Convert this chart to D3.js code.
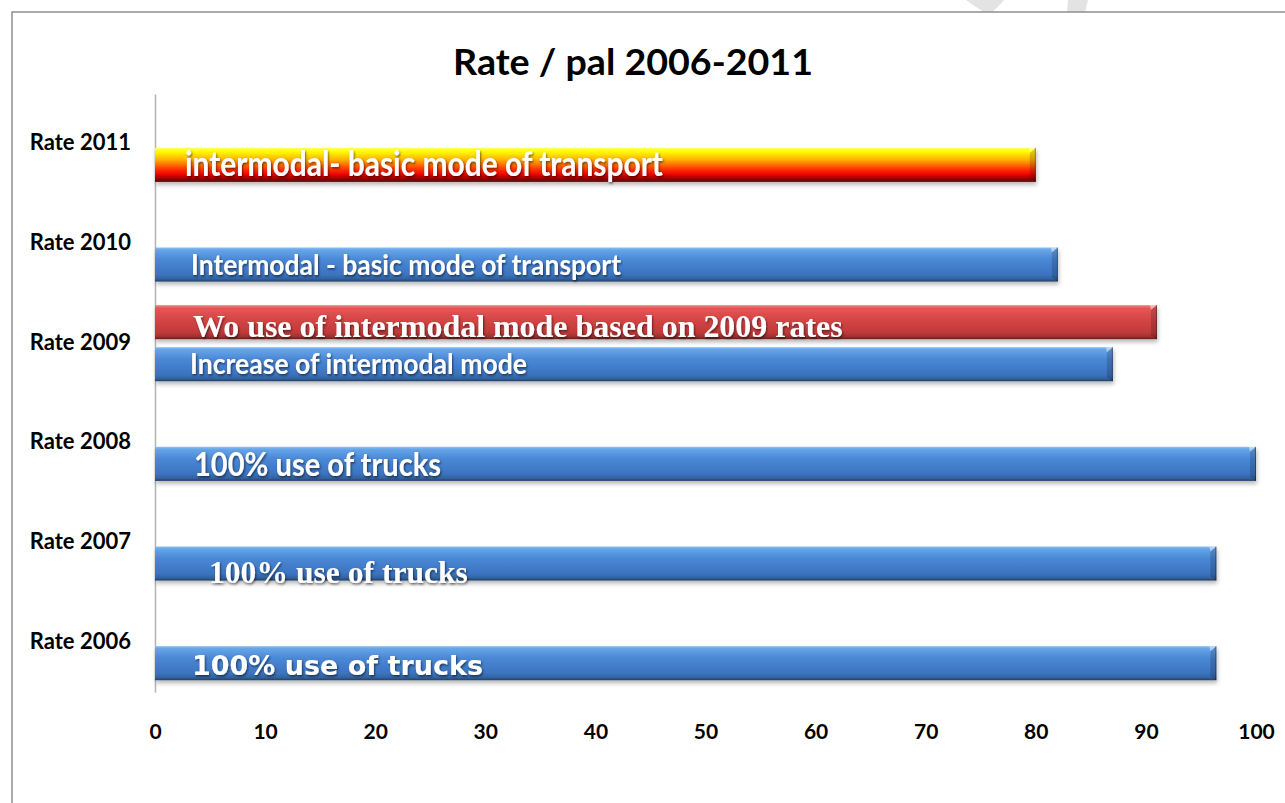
<!DOCTYPE html>
<html>
<head>
<meta charset="utf-8">
<script src="https://cdn.jsdelivr.net/npm/d3@7"></script>
<style>
  html, body { margin: 0; padding: 0; background: #fff; }
  svg { display: block; }
</style>
</head>
<body>
<svg id="chart" width="1285" height="803"></svg>
<script>
// Rate per pallet, 2006-2011
const categories = ["Rate 2006", "Rate 2007", "Rate 2008", "Rate 2009", "Rate 2010", "Rate 2011"];
const baseRates = [96.4, 96.4, 100, 87, 82, 80];
const baseLabels = [
  "100% use of trucks",
  "100% use of trucks",
  "100% use of trucks",
  "Increase of intermodal mode",
  "Intermodal - basic mode of transport",
  "intermodal- basic mode of transport"
];
const noIntermodalRates = [null, null, null, 91, null, null];
const noIntermodalLabels = [null, null, null, "Wo use of intermodal mode based on 2009 rates", null, null];
const xTicks = [0, 10, 20, 30, 40, 50, 60, 70, 80, 90, 100];
const chartTitle = "Rate / pal 2006-2011";

// Presentation of the in-bar captions (font, fitted width, offsets from the bar start / bar centre,
// and how much taller than the natural fit the glyphs are drawn before being squeezed to width)
const baseLabelStyle = [
  { font: "'DejaVu Sans'", width: 291, dx: 37, dy: 12, tall: 1.0 },
  { font: "'Liberation Serif'", width: 259, dx: 54, dy: 19, tall: 1.0 },
  { font: "Lato", width: 247, dx: 39, dy: 12, tall: 1.12 },
  { font: "Lato", width: 337, dx: 35, dy: 10, tall: 1.1 },
  { font: "Lato", width: 430, dx: 36, dy: 10, tall: 1.1 },
  { font: "Lato", width: 478, dx: 30, dy: 11, tall: 1.12 }
];
const altLabelStyle = { font: "'Liberation Serif'", width: 650, dx: 38, dy: 15, tall: 1.0 };
const baseFill = ["blue", "blue", "blue", "blue", "blue", "fire"];

const svg = d3.select("#chart");
const defs = svg.append("defs");

function vGradient(id, stops) {
  const g = defs.append("linearGradient").attr("id", id)
    .attr("x1", 0).attr("y1", 0).attr("x2", 0).attr("y2", 1);
  stops.forEach(([o, c]) => g.append("stop").attr("offset", o).attr("stop-color", c));
}
vGradient("blue", [["0", "#8dc0f4"], ["0.07", "#67a5e8"], ["0.35", "#4a88d6"], ["0.8", "#3b73bf"], ["0.92", "#33639f"], ["1", "#213f6a"]]);
vGradient("red", [["0", "#f58a8a"], ["0.08", "#e55858"], ["0.4", "#d64646"], ["0.8", "#c13a3a"], ["0.92", "#a23030"], ["1", "#6a1c1c"]]);
vGradient("fire", [["0", "#ffff66"], ["0.1", "#ffff00"], ["0.35", "#ffb000"], ["0.6", "#ff4000"], ["0.78", "#ee0000"], ["0.9", "#a00000"], ["1", "#4a1010"]]);

const shadow = defs.append("filter").attr("id", "barShadow")
  .attr("x", "-5%").attr("y", "-30%").attr("width", "110%").attr("height", "180%");
shadow.append("feDropShadow").attr("dx", 1).attr("dy", 3).attr("stdDeviation", 2.2)
  .attr("flood-color", "#000").attr("flood-opacity", 0.28);

const txtShadow = defs.append("filter").attr("id", "textShadow")
  .attr("x", "-5%").attr("y", "-30%").attr("width", "110%").attr("height", "180%");
txtShadow.append("feDropShadow").attr("dx", 1).attr("dy", 1.5).attr("stdDeviation", 1)
  .attr("flood-color", "#000").attr("flood-opacity", 0.55);

// background and chart-area frame
svg.append("rect").attr("width", 1285).attr("height", 803).attr("fill", "#fff");
svg.append("path")
  .attr("d", "M966,0 L1004,0 C1000,5 996,9 992,12 L984,12 C978,8 971,4 966,0 Z M1068,0 L1088,0 L1085,12 L1067,12 Z")
  .attr("fill", "#e3e3e3");
svg.append("rect").attr("x", 12).attr("y", 12).attr("width", 1320).attr("height", 840)
  .attr("fill", "none").attr("stroke", "#8f8f8f").attr("stroke-width", 1.5);

// scales
const x = d3.scaleLinear().domain([0, 100]).range([155, 1256]);
const y = d3.scaleBand().domain(categories.slice().reverse()).range([94, 692]);
const slot = d3.scaleBand().domain(["alt", "base"]).range([0, y.bandwidth()])
  .paddingInner(0.19).paddingOuter(0.28);

// title
svg.append("text").attr("x", 633).attr("y", 75).attr("text-anchor", "middle")
  .attr("font-family", "Lato, sans-serif").attr("font-weight", 700).attr("font-size", 36)
  .attr("textLength", 360).attr("lengthAdjust", "spacingAndGlyphs")
  .attr("fill", "#000").text(chartTitle);

// category axis
const yAxis = svg.append("g").attr("transform", `translate(155,0)`)
  .call(d3.axisLeft(y).tickSize(0).tickSizeOuter(0).tickPadding(24));
yAxis.select(".domain").attr("stroke", "#b3b3b3").attr("stroke-width", 1.5);
yAxis.selectAll("text").attr("font-family", "Lato, sans-serif").attr("font-weight", 700)
  .attr("font-size", 22).attr("fill", "#000").attr("dy", "0.3em");

// value axis
const xAxis = svg.append("g").attr("transform", `translate(0,731)`)
  .call(d3.axisBottom(x).tickValues(xTicks).tickSize(0).tickPadding(0));
xAxis.select(".domain").remove();
xAxis.selectAll("text").attr("font-family", "Lato, sans-serif").attr("font-weight", 700)
  .attr("font-size", 21).attr("fill", "#000").attr("dy", "0.36em");

// bars
const rows = categories.map((c, i) => ({
  cat: c, base: baseRates[i], baseLabel: baseLabels[i], alt: noIntermodalRates[i],
  altLabel: noIntermodalLabels[i], style: baseLabelStyle[i], fill: baseFill[i]
}));

const marks = [];
rows.forEach(r => {
  marks.push({ cat: r.cat, slotKey: "base", value: r.base, label: r.baseLabel, style: r.style, fill: r.fill });
  if (r.alt != null) marks.push({ cat: r.cat, slotKey: "alt", value: r.alt, label: r.altLabel, style: altLabelStyle, fill: "red" });
});

const barG = svg.append("g");
const bar = barG.selectAll("g.bar").data(marks).join("g").attr("class", "bar")
  .attr("transform", d => `translate(0,${y(d.cat) + slot(d.slotKey)})`);

const h = slot.bandwidth();
bar.append("rect")
  .attr("x", x(0)).attr("y", 0)
  .attr("width", d => x(d.value) - x(0)).attr("height", h)
  .attr("fill", d => `url(#${d.fill})`).attr("filter", "url(#barShadow)");

// bevelled right end
bar.append("path")
  .attr("d", d => { const e = x(d.value); return `M${e - 6},${5} L${e},0 L${e},${h} L${e - 6},${h - 4} Z`; })
  .attr("fill", "rgba(0,0,0,0.16)");
bar.append("path")
  .attr("d", d => { const e = x(d.value); return `M${e - 6},${5} L${e},0 L${e - 7},0 Z`; })
  .attr("fill", "rgba(255,255,255,0.45)");
bar.append("line")
  .attr("x1", d => x(d.value) - 0.5).attr("x2", d => x(d.value) - 0.5)
  .attr("y1", 0).attr("y2", h).attr("stroke", "rgba(0,0,0,0.35)");

// captions inside the bars, fitted to their widths
bar.append("text")
  .attr("x", d => x(0) + d.style.dx)
  .attr("y", d => h / 2 + d.style.dy)
  .attr("font-family", d => d.style.font + ", sans-serif")
  .attr("font-weight", 700)
  .attr("font-size", 24)
  .attr("fill", "#fff")
  .attr("filter", "url(#textShadow)")
  .text(d => d.label)
  .each(function (d) {
    const w = this.getComputedTextLength();
    const sel = d3.select(this).attr("font-size", 24 * d.style.width / w * d.style.tall);
    if (d.style.tall !== 1) sel.attr("textLength", d.style.width).attr("lengthAdjust", "spacingAndGlyphs");
  });
</script>
</body>
</html>
